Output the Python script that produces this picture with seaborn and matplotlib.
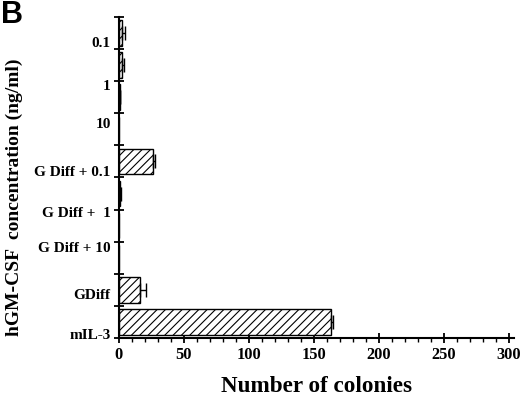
import numpy as np
import pandas as pd
import seaborn as sns
import matplotlib.pyplot as plt
from matplotlib.ticker import MultipleLocator, FixedLocator

# data (blank slots are spacer rows in the chart)
categories = ['0.1', '1', '10', ' ', 'G Diff + 0.1', 'G Diff +  1', 'G Diff + 10', '  ', 'GDiff', 'mIL-3']
colonies = [2, 2, 0.5, 0, 26, 0.5, 0, 0, 16, 163]
errors = [3, 1.5, 0.5, 0, 1.5, 1, 0, 0, 5, 2]

sns.set_style('ticks')
plt.rcParams['font.family'] = ['Liberation Serif', 'DejaVu Serif']
plt.rcParams['hatch.linewidth'] = 0.8
for k in ['text.color', 'axes.labelcolor', 'xtick.color', 'ytick.color', 'axes.edgecolor']:
    plt.rcParams[k] = 'black'

df = pd.DataFrame({'group': categories, 'colonies': colonies})

fig = plt.figure(figsize=(5.2, 3.95), dpi=100)
ax = fig.add_axes([0.2288, 0.1443, 0.7596, 0.8127])

sns.barplot(data=df, x='colonies', y='group', order=categories, orient='h',
            color='white', edgecolor='black', linewidth=1, hatch='////',
            width=0.8, errorbar=None, ax=ax)
for b in ax.patches:
    b.set_facecolor('white')

idx = [i for i, e in enumerate(errors) if e > 0]
ax.errorbar([colonies[i] for i in idx], idx,
            xerr=[[0] * len(idx), [errors[i] for i in idx]],
            fmt='none', ecolor='black', elinewidth=1, capsize=5, capthick=1)

ax.set_xlim(0, 304)
ax.set_ylim(9.5, -0.5)
ax.xaxis.set_major_locator(MultipleLocator(50))
ax.xaxis.set_minor_locator(MultipleLocator(10))
ax.tick_params(axis='x', which='major', direction='inout', length=7, width=1.3,
               labelsize=11.8, pad=3)
ax.tick_params(axis='x', which='minor', direction='out', length=3, width=1)

# y labels sit a bit off the band centres, as in the original figure
shown = [i for i, c in enumerate(categories) if c.strip()]
offsets = [0.27, 0.62, 0.80, 0.29, 0.57, 0.66, 0.13, 0.38]
ax.set_yticks([i + o for i, o in zip(shown, offsets)])
ax.set_yticklabels([categories[i] for i in shown])
ax.yaxis.set_minor_locator(FixedLocator(np.arange(-0.5, 10, 1)))
ax.tick_params(axis='y', which='major', length=0, labelsize=11, pad=6)
ax.tick_params(axis='y', which='minor', direction='inout', length=7, width=1.3)

for lab in ax.get_xticklabels() + ax.get_yticklabels():
    lab.set_fontweight('bold')

sns.despine(ax=ax)
for s in ['left', 'bottom']:
    ax.spines[s].set_linewidth(1.5)

ax.set_xlabel('Number of colonies', fontsize=16.7, fontweight='bold', labelpad=9)
ax.set_ylabel('')
fig.text(0.027, 0.5, 'hGM-CSF  concentration (ng/ml)', rotation=90,
         ha='center', va='center', fontsize=14, fontweight='bold')
fig.text(0.002, 1.0, 'B', ha='left', va='top', fontsize=22, fontweight='bold',
         family=['Liberation Sans', 'DejaVu Sans'])

fig.savefig('out.png', dpi=100)
